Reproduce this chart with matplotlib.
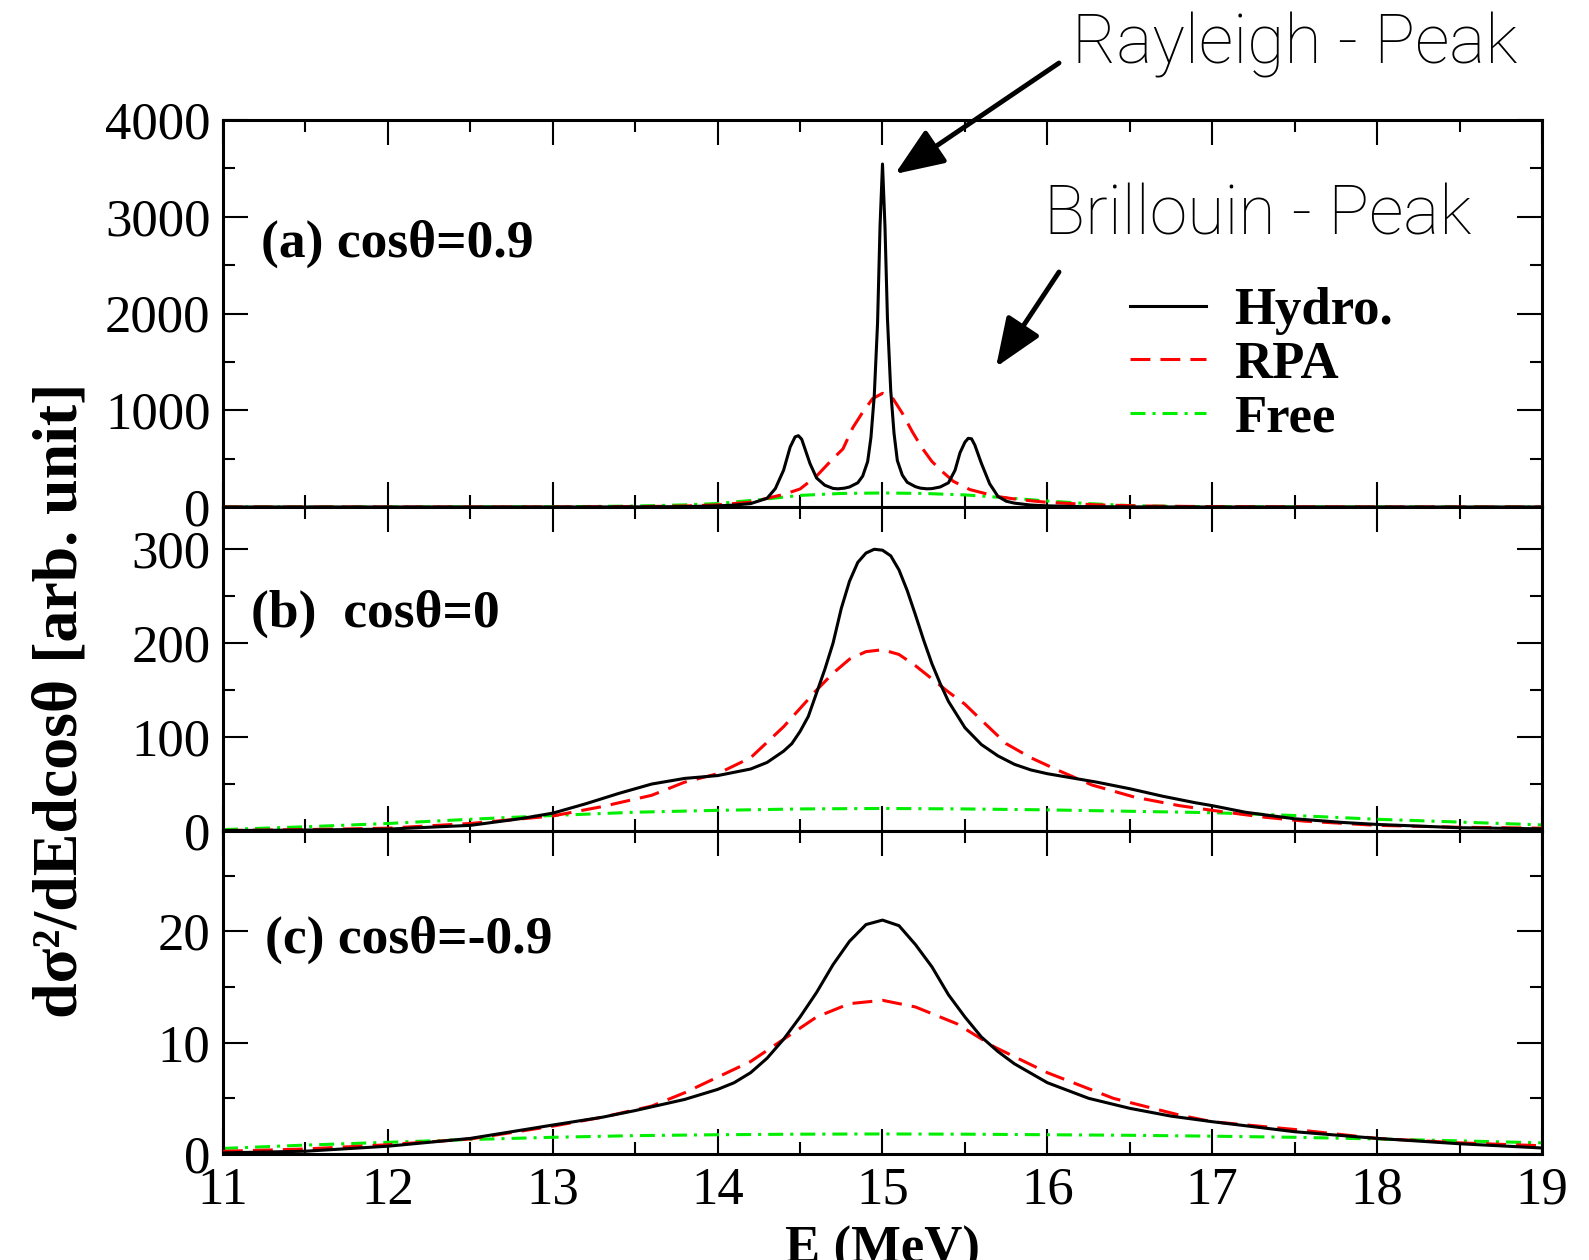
import numpy as np
import matplotlib
matplotlib.use("Agg")
import matplotlib.pyplot as plt
from matplotlib.ticker import MultipleLocator

plt.rcParams['font.family'] = ['Liberation Serif', 'DejaVu Serif']

# ---- (a) cos(theta) = 0.9 ----
e_hydro_a = [11.0, 12.0, 13.0, 13.5, 13.8, 14.0, 14.1, 14.2, 14.3, 14.35, 14.4, 14.44,
             14.47, 14.49, 14.51, 14.53, 14.56, 14.6, 14.65, 14.7, 14.73, 14.77, 14.8,
             14.85, 14.88, 14.91, 14.93, 14.95, 14.97, 14.985, 15.0, 15.015, 15.03,
             15.05, 15.07, 15.09, 15.12, 15.15, 15.2, 15.23, 15.27, 15.3, 15.35, 15.4,
             15.44, 15.47, 15.5, 15.52, 15.54, 15.56, 15.6, 15.65, 15.7, 15.75, 15.8,
             15.9, 16.0, 16.2, 16.5, 17.0, 18.0, 19.0]
hydro_a = [0, 0, 0, 1, 4, 12, 20, 35, 90, 190, 380, 620,
           725, 737, 700, 600, 450, 300, 225, 192, 188, 195, 207,
           250, 320, 470, 720, 1150, 1900, 2900, 3545, 2900, 1950,
           1200, 760, 480, 330, 255, 210, 195, 188, 190, 207, 250,
           380, 560, 670, 710, 705, 640, 450, 240, 110, 60, 40,
           20, 12, 4, 1, 0, 0, 0]

e_rpa_a = [11.0, 12.0, 13.0, 13.5, 13.8, 14.0, 14.2, 14.3, 14.4, 14.5, 14.6, 14.7, 14.76,
           14.82, 14.88, 14.94, 15.0, 15.06, 15.12, 15.18, 15.24, 15.3, 15.36, 15.43,
           15.53, 15.69, 15.83, 16.0, 16.3, 16.6, 17.0, 18.0, 19.0]
rpa_a = [0, 0, 1, 4, 10, 22, 50, 90, 130, 186, 320, 500, 600,
         820, 980, 1120, 1175, 1130, 970, 780, 610, 470, 370, 265,
         180, 110, 76, 48, 22, 10, 4, 1, 0]

e_free_a = [11.0, 12.5, 13.0, 13.5, 13.8, 14.0, 14.25, 14.5, 14.75, 15.0, 15.25, 15.5,
            15.75, 16.0, 16.25, 16.5, 16.8, 17.5, 19.0]
free_a = [0, 0, 2, 10, 22, 36, 75, 120, 140, 145, 140, 125,
          95, 62, 35, 15, 5, 0, 0]

# ---- (b) cos(theta) = 0 ----
e_hydro_b = [11.0, 11.5, 12.0, 12.5, 12.8, 13.0, 13.2, 13.4, 13.6, 13.8, 14.0, 14.2,
             14.3, 14.4, 14.45, 14.5, 14.55, 14.6, 14.65, 14.7, 14.75, 14.8, 14.85,
             14.9, 14.95, 15.0, 15.05, 15.1, 15.15, 15.2, 15.25, 15.3, 15.35, 15.4,
             15.5, 15.6, 15.7, 15.8, 15.9, 16.0, 16.1, 16.3, 16.5, 16.7, 16.9, 17.0,
             17.2, 17.5, 17.8, 18.0, 18.5, 19.0]
hydro_b = [0.5, 1, 2, 6, 13, 19, 29, 40, 50, 56, 59, 66,
           73, 85, 93, 106, 122, 147, 172, 200, 237, 266, 286,
           296, 300, 299, 293, 278, 256, 230, 203, 178, 157, 138,
           110, 92, 80, 71, 65, 61, 58, 52, 45, 37, 30, 27,
           20, 13, 9, 7, 3.5, 2.3]

e_rpa_b = [11.0, 11.5, 12.0, 12.5, 13.0, 13.3, 13.6, 13.8, 14.0, 14.2, 14.4, 14.6, 14.7,
           14.8, 14.9, 15.0, 15.1, 15.2, 15.3, 15.4, 15.5, 15.6, 15.75, 15.9, 16.06,
           16.27, 16.53, 16.8, 17.0, 17.3, 17.56, 18.0, 18.5, 19.0]
rpa_b = [0.5, 1.5, 3, 8, 16, 26, 38, 52, 61, 78, 111, 150, 168,
         183, 191, 193, 188, 176, 162, 148, 135, 118, 93, 78, 65,
         49, 36, 27, 22, 15, 10.5, 6, 4, 3]

e_free_b = [11.0, 11.5, 12.0, 12.5, 13.0, 13.5, 14.0, 14.5, 15.0, 15.5, 16.0, 16.5,
            17.0, 17.5, 18.0, 18.5, 19.0]
free_b = [1.5, 4.5, 8, 12.5, 16.5, 20, 22, 23.5, 24, 23.5, 22.5, 21,
          19.5, 16.5, 12.5, 9.5, 6.5]

# ---- (c) cos(theta) = -0.9 ----
e_hydro_c = [11.0, 11.5, 12.0, 12.5, 13.0, 13.3, 13.5, 13.8, 14.0, 14.1, 14.2, 14.3,
             14.4, 14.5, 14.6, 14.7, 14.8, 14.9, 15.0, 15.1, 15.2, 15.3, 15.4, 15.5,
             15.6, 15.7, 15.8, 16.0, 16.25, 16.5, 16.75, 17.0, 17.5, 18.0, 18.5, 19.0]
hydro_c = [0.1, 0.25, 0.7, 1.4, 2.6, 3.3, 3.9, 4.9, 5.8, 6.4, 7.3, 8.6,
           10.3, 12.3, 14.5, 17.0, 19.1, 20.6, 21.0, 20.5, 18.8, 16.8, 14.3, 12.3,
           10.5, 9.2, 8.1, 6.4, 5.0, 4.1, 3.4, 2.9, 2.0, 1.4, 0.92, 0.54]

e_rpa_c = [11.0, 11.5, 12.0, 12.5, 13.0, 13.3, 13.6, 13.8, 14.0, 14.2, 14.4, 14.6, 14.8,
           15.0, 15.2, 15.45, 15.68, 16.0, 16.4, 16.8, 17.0, 17.5, 18.0, 18.5, 19.0]
rpa_c = [0.24, 0.45, 0.83, 1.35, 2.5, 3.3, 4.3, 5.5, 6.9, 8.3, 10.3, 12.3, 13.5,
         13.8, 13.2, 11.7, 9.6, 7.3, 5.0, 3.5, 2.9, 2.2, 1.4, 1.0, 0.74]

e_free_c = [11.0, 11.5, 12.0, 12.5, 13.0, 13.5, 14.0, 14.5, 15.0, 15.5, 16.0, 16.5,
            17.0, 17.5, 18.0, 18.5, 19.0]
free_c = [0.5, 0.8, 1.05, 1.3, 1.5, 1.65, 1.73, 1.78, 1.8, 1.78, 1.73, 1.68,
          1.6, 1.5, 1.35, 1.18, 1.0]

panel_labels = ["(a) cos\u03b8=0.9", "(b)  cos\u03b8=0", "(c) cos\u03b8=-0.9"]
ylims = [(0, 4000), (0, 345), (0, 29)]
ymajor = [1000, 100, 10]
yminor = [500, 50, 5]

W, H = 1589, 1260
fig = plt.figure(figsize=(W / 100, H / 100), dpi=100)

x0, x1 = 223, 1542
edges = [120, 507, 831, 1154]   # pixel rows of panel borders (from top)
axs = []
for i in range(3):
    top, bot = edges[i], edges[i + 1]
    ax = fig.add_axes([x0 / W, 1 - bot / H, (x1 - x0) / W, (bot - top) / H])
    axs.append(ax)

lw = 2.2
red_dash = (0, (6.5, 3.3))
green_dd = (0, (4.9, 2.3, 1.0, 2.3))

data = [
    (e_hydro_a, hydro_a, e_rpa_a, rpa_a, e_free_a, free_a),
    (e_hydro_b, hydro_b, e_rpa_b, rpa_b, e_free_b, free_b),
    (e_hydro_c, hydro_c, e_rpa_c, rpa_c, e_free_c, free_c),
]

for i, ax in enumerate(axs):
    eh, h, er, r, ef, f = data[i]
    ax.plot(ef, f, color='#00ee00', lw=lw, ls=green_dd, label='Free', zorder=2)
    ax.plot(er, r, color='red', lw=lw, ls=red_dash, label='RPA', zorder=3)
    ax.plot(eh, h, color='black', lw=lw, ls='-', label='Hydro.', zorder=4)
    ax.set_xlim(11, 19)
    ax.set_ylim(*ylims[i])
    ax.xaxis.set_major_locator(MultipleLocator(1))
    ax.xaxis.set_minor_locator(MultipleLocator(0.5))
    ax.yaxis.set_major_locator(MultipleLocator(ymajor[i]))
    ax.yaxis.set_minor_locator(MultipleLocator(yminor[i]))
    ax.tick_params(which='both', direction='in', top=True, right=True,
                   labelsize=38, width=1.5)
    ax.tick_params(which='major', length=18, pad=9)
    ax.tick_params(which='minor', length=8.6)
    for sp in ax.spines.values():
        sp.set_linewidth(2.2)
    if i < 2:
        ax.tick_params(labelbottom=False)

label_pos = [(0.029, 0.68), (0.021, 0.67), (0.032, 0.663)]
for ax, lab, (px, py) in zip(axs, panel_labels, label_pos):
    ax.text(px, py, lab, transform=ax.transAxes, fontsize=38.5,
            fontweight='bold', va='center', ha='left')

axs[2].set_xlabel('E (MeV)', fontsize=38, fontweight='bold', labelpad=8)

fig.text(62 / W, 1 - 700 / H, 'd\u03c3\u00b2/dEdcos\u03b8 [arb. unit]', rotation=90,
         fontsize=46, fontweight='bold', ha='center', va='center')

# legend (reversed order: Hydro, RPA, Free)
hnd, lbl = axs[0].get_legend_handles_labels()
axs[0].legend(hnd[::-1], lbl[::-1], loc='upper left',
              bbox_to_anchor=(1130 / W, 1 - 287 / H), bbox_transform=fig.transFigure,
              frameon=False, borderpad=0, borderaxespad=0,
              handlelength=1.44, handletextpad=0.53, labelspacing=0.11,
              prop={'family': 'Liberation Serif', 'weight': 'bold', 'size': 38})

# annotations
ann_font = dict(family=['Roboto', 'DejaVu Sans'], weight='light', size=49)
fig.text(1072 / W, 1 - 45 / H, 'Rayleigh - Peak', ha='left', va='center', **ann_font)
fig.text(1044 / W, 1 - 216 / H, 'Brillouin - Peak', ha='left', va='center', **ann_font)

arrow = dict(arrowstyle='-|>,head_length=1.5,head_width=0.6', mutation_scale=20,
             lw=3.5, color='black', shrinkA=0, shrinkB=0)
axs[0].annotate('', xy=(895, H - 174), xytext=(1059, H - 63),
                xycoords='figure pixels', textcoords='figure pixels',
                arrowprops=arrow, annotation_clip=False)
axs[0].annotate('', xy=(996, H - 367), xytext=(1059, H - 272),
                xycoords='figure pixels', textcoords='figure pixels',
                arrowprops=arrow, annotation_clip=False)

fig.savefig('out.png', dpi=100)
